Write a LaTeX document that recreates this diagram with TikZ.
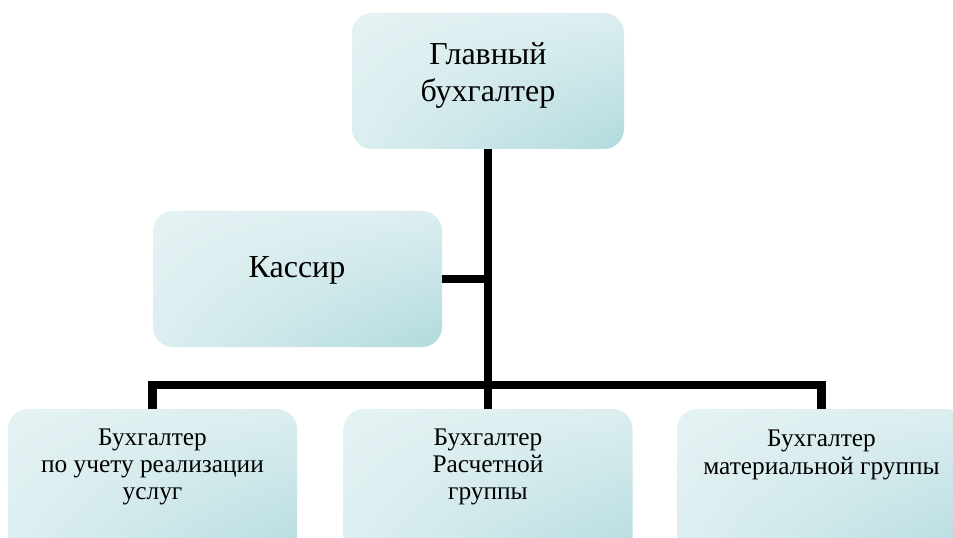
\documentclass[tikz,border=0pt]{standalone}
\usepackage{fontspec}
\usetikzlibrary{shadings}
\setmainfont{Liberation Serif}
\definecolor{gA}{HTML}{E4F2F3}
\definecolor{gB}{HTML}{DCEEF0}
\definecolor{gC}{HTML}{B2DADE}
\tikzset{
  box/.style={rectangle, rounded corners=15pt, minimum width=#1*0.75pt, inner sep=0pt,
    shade, upper left=gA, upper right=gB, lower left=gB, lower right=gC},
  big/.style={font=\fontsize{24pt}{27.6pt}\selectfont, align=center, inner sep=0pt},
  small/.style={font=\fontsize{19pt}{20.4pt}\selectfont, align=center, inner sep=0pt},
  conn/.style={line width=6.5pt, line join=miter, line cap=butt},
}
\begin{document}
\begin{tikzpicture}[x=0.75pt, y=-0.75pt]
\useasboundingbox (0,0) rectangle (953,538);
\clip (0,0) rectangle (953,538);
\fill[white] (0,0) rectangle (953,538);
% boxes
\node[box=272, minimum height=102pt] (top) at (488,81) {};
\node[box=289, minimum height=102pt] (kassir) at (297.5,279) {};
\node[box=289, minimum height=120pt] (left) at (152.5,489) {};
\node[box=289, minimum height=120pt] (mid) at (488,489) {};
\node[box=289, minimum height=120pt] (right) at (821.5,489) {};
% texts
\node[big] (ttop) at (top.center) [yshift=4pt] {Главный\\бухгалтер};
\node[big] (tkassir) at (297,270) {Кассир};
\node[small] (tleft) at (152.5,467) {Бухгалтер\\по учету реализации\\услуг};
\node[small] (tmid) at (488,467) {Бухгалтер\\Расчетной\\группы};
\node[small] (tright) at (821.5,455) {Бухгалтер\\материальной группы};
% connectors
\coordinate (junc) at (488,385);
\draw[conn] (top.south) -- (mid.north);
\draw[conn] (left.north) |- (junc) -| (right.north);
\draw[conn] (kassir.east) -- (kassir.east -| top.south);
\end{tikzpicture}
\end{document}
